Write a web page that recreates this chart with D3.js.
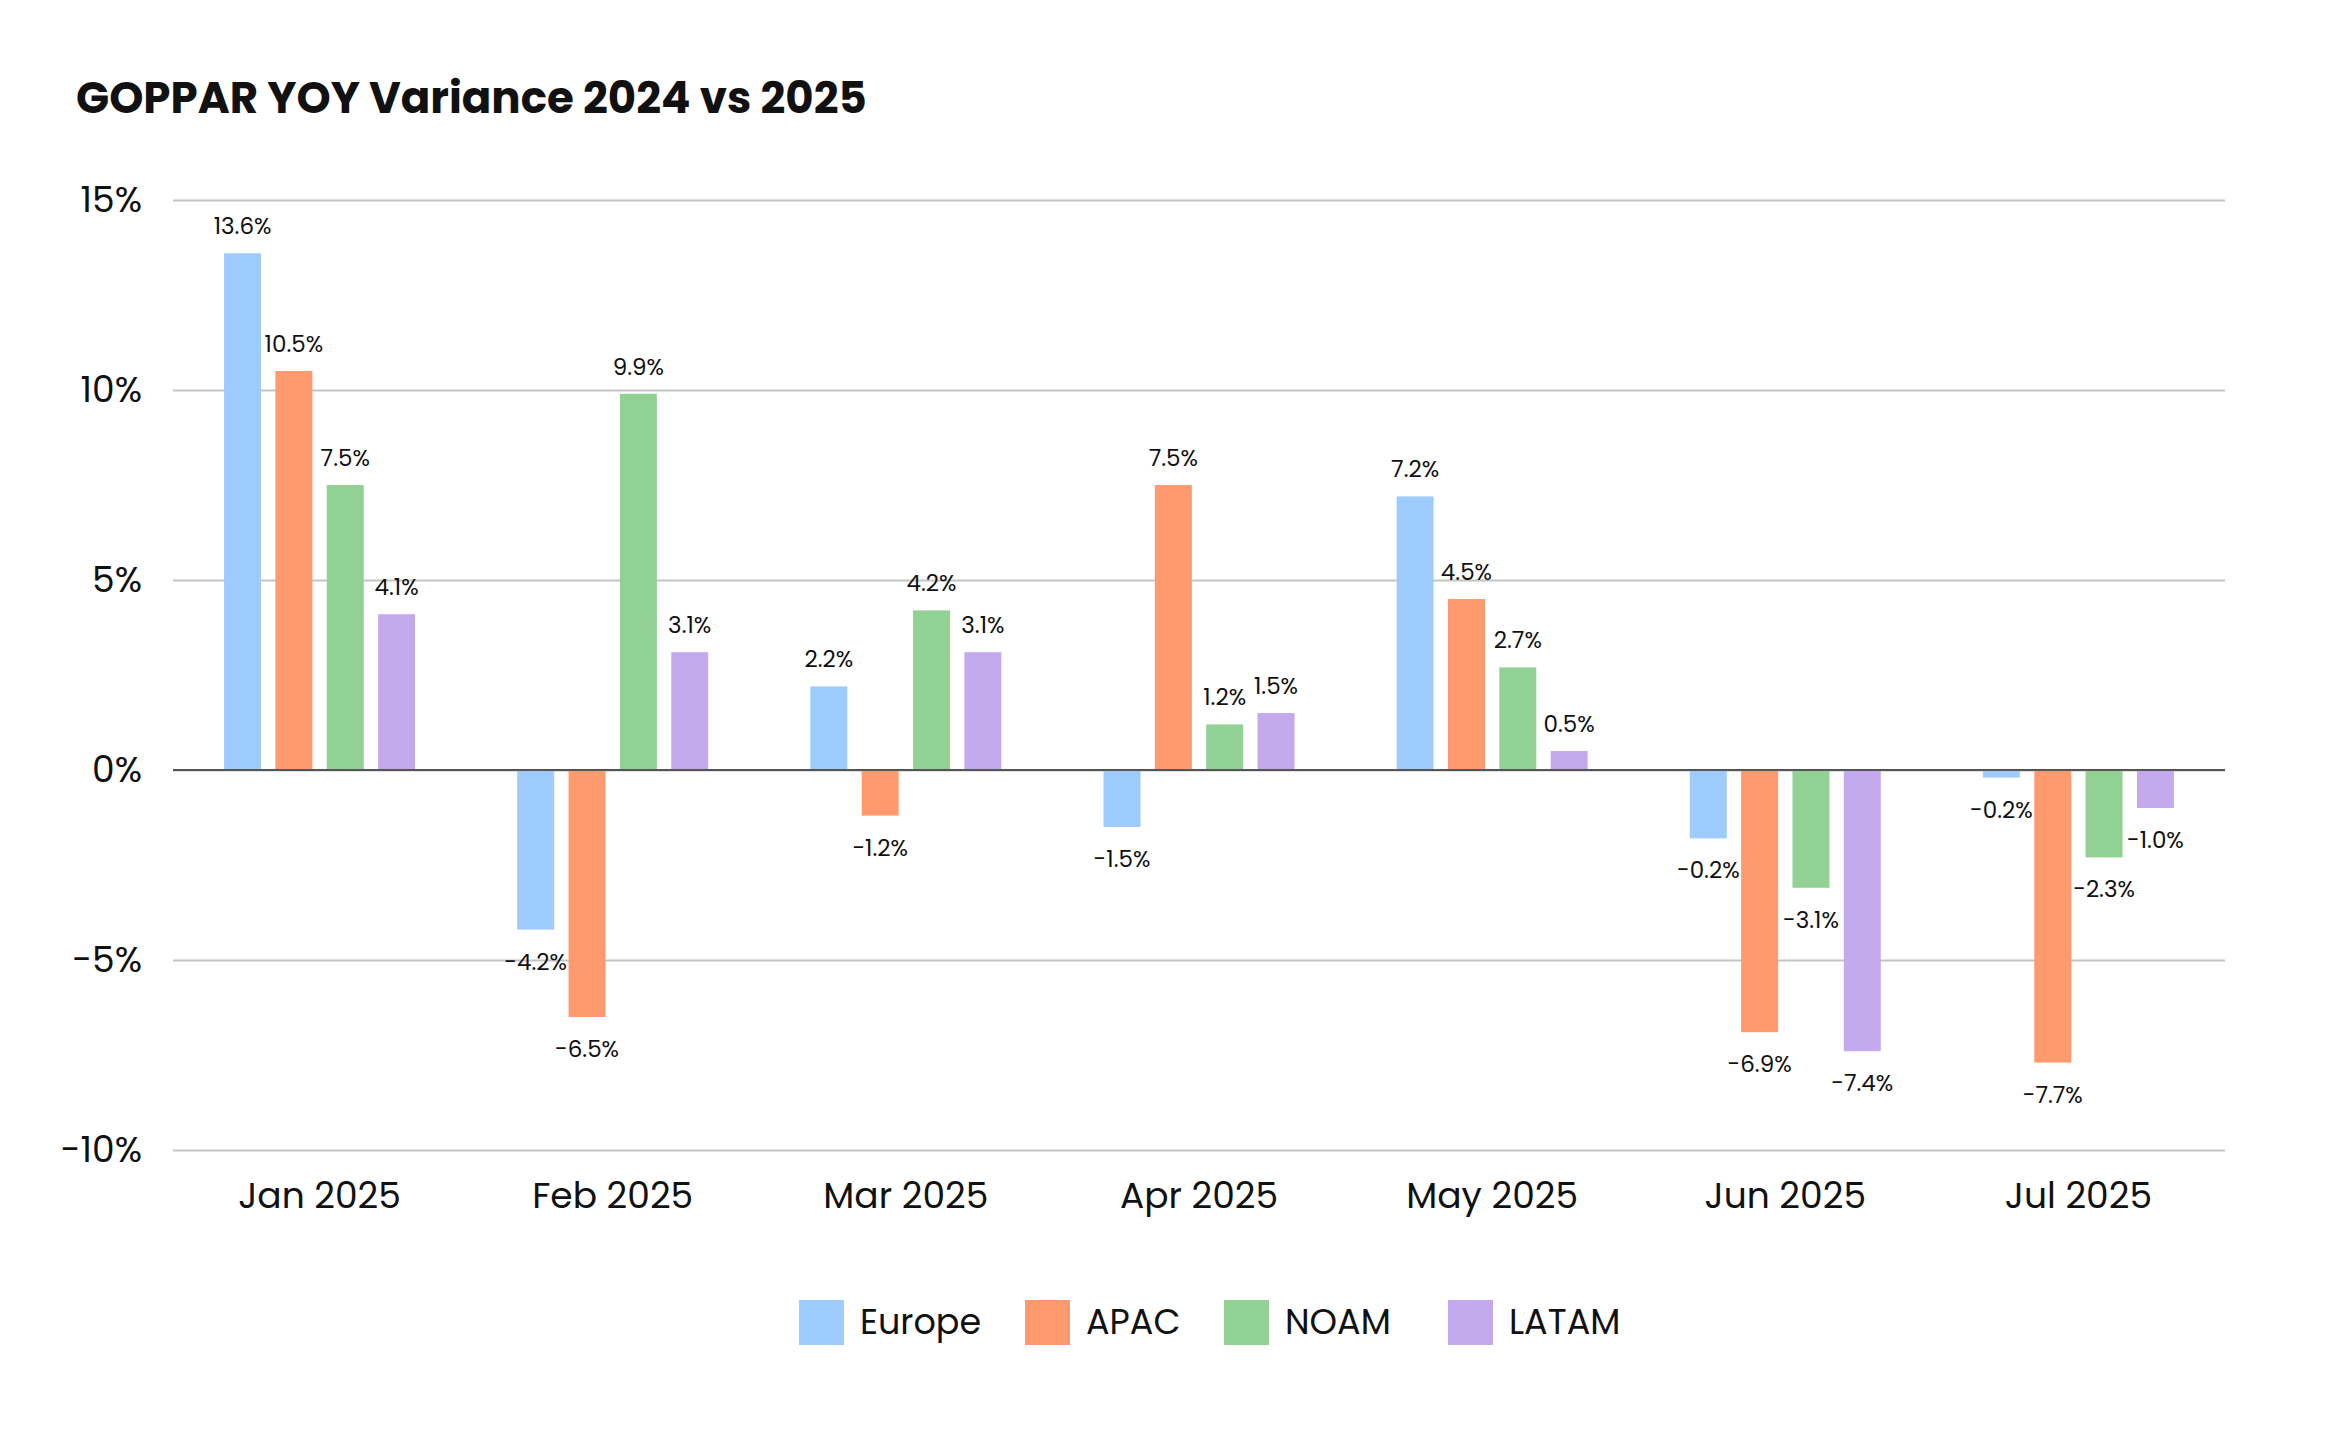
<!DOCTYPE html>
<html>
<head>
<meta charset="utf-8">
<script src="https://cdn.jsdelivr.net/npm/d3@7"></script>
<style>
  body { margin: 0; background: #fff; }
  svg text { font-family: Poppins, Inter, "Noto Sans", sans-serif; fill: #111; }
</style>
</head>
<body>
<div id="chart"></div>
<script>
  // data
  const months = ["Jan 2025", "Feb 2025", "Mar 2025", "Apr 2025", "May 2025", "Jun 2025", "Jul 2025"];
  const regions = ["Europe", "APAC", "NOAM", "LATAM"];
  const europe = [13.6, -4.2, 2.2, -1.5, 7.2, -1.8, -0.2];
  const apac = [10.5, -6.5, -1.2, 7.5, 4.5, -6.9, -7.7];
  const noam = [7.5, 9.9, 4.2, 1.2, 2.7, -3.1, -2.3];
  const latam = [4.1, 3.1, 3.1, 1.5, 0.5, -7.4, -1.0];
  // labels as printed on the chart (Jun Europe bar is labelled -0.2%)
  const europeLabels = ["13.6%", "-4.2%", "2.2%", "-1.5%", "7.2%", "-0.2%", "-0.2%"];
  const yTicks = [-10, -5, 0, 5, 10, 15];
  const colors = ["#9dcbfc", "#ff9a6e", "#92d194", "#c3aaef"];

  const seriesValues = [europe, apac, noam, latam];
  const fmt = v => v.toFixed(1) + "%";

  const width = 2341, height = 1455;
  const margin = { top: 200, right: 116, bottom: 305, left: 173 };

  const svg = d3.select("#chart").append("svg")
    .attr("width", width)
    .attr("height", height);

  svg.append("text")
    .attr("x", 76)
    .attr("y", 113)
    .attr("font-size", 43.5)
    .attr("font-weight", 700)
    .text("GOPPAR YOY Variance 2024 vs 2025");

  const x = d3.scaleBand()
    .domain(months)
    .range([margin.left, width - margin.right])
    .padding(0);

  const groupWidth = 191;
  const inner = d3.scaleBand()
    .domain(regions)
    .range([0, groupWidth])
    .paddingInner(0.28)
    .paddingOuter(0);

  const y = d3.scaleLinear()
    .domain([-10, 15])
    .range([height - margin.bottom, margin.top]);

  // gridlines + y labels
  const yAxis = svg.append("g")
    .attr("transform", `translate(${margin.left},0)`)
    .call(d3.axisLeft(y).tickValues(yTicks)
      .tickSize(-(width - margin.left - margin.right))
      .tickFormat(d => d + "%"));
  yAxis.select(".domain").remove();
  yAxis.selectAll(".tick line")
    .attr("stroke", "#c4c4c4")
    .attr("stroke-width", 2);
  yAxis.selectAll(".tick text")
    .attr("x", -31)
    .attr("font-size", 36)
    .attr("fill", "#111");

  // x labels
  const xAxis = svg.append("g")
    .attr("transform", `translate(0,${height - margin.bottom})`)
    .call(d3.axisBottom(x).tickSize(0));
  xAxis.select(".domain").remove();
  xAxis.selectAll(".tick text")
    .attr("dy", 0)
    .attr("y", 58)
    .attr("font-size", 36)
    .attr("fill", "#111");

  const groups = svg.append("g")
    .selectAll("g")
    .data(months)
    .join("g")
    .attr("transform", d => `translate(${x(d) + x.bandwidth() / 2 - groupWidth / 2},0)`);

  regions.forEach((r, si) => {
    const vals = seriesValues[si];
    groups.append("rect")
      .attr("x", inner(r))
      .attr("width", inner.bandwidth())
      .attr("y", (d, i) => y(Math.max(0, vals[i])))
      .attr("height", (d, i) => Math.abs(y(vals[i]) - y(0)))
      .attr("fill", colors[si]);

    groups.append("text")
      .attr("x", inner(r) + inner.bandwidth() / 2)
      .attr("y", (d, i) => vals[i] >= 0 ? y(vals[i]) - 19 : y(vals[i]) + 40)
      .attr("text-anchor", "middle")
      .attr("font-size", 23)
      .text((d, i) => si === 0 ? europeLabels[i] : fmt(vals[i]));
  });

  // zero line on top
  svg.append("line")
    .attr("x1", margin.left)
    .attr("x2", width - margin.right)
    .attr("y1", y(0))
    .attr("y2", y(0))
    .attr("stroke", "#555")
    .attr("stroke-width", 2);

  // legend
  const legendX = [799, 1025, 1224, 1448];
  const legend = svg.append("g")
    .selectAll("g")
    .data(regions)
    .join("g")
    .attr("transform", (d, i) => `translate(${legendX[i]},1300)`);
  legend.append("rect")
    .attr("width", 45)
    .attr("height", 45)
    .attr("fill", (d, i) => colors[i]);
  legend.append("text")
    .attr("x", 61)
    .attr("y", 34)
    .attr("font-size", 35)
    .text(d => d);
</script>
</body>
</html>
